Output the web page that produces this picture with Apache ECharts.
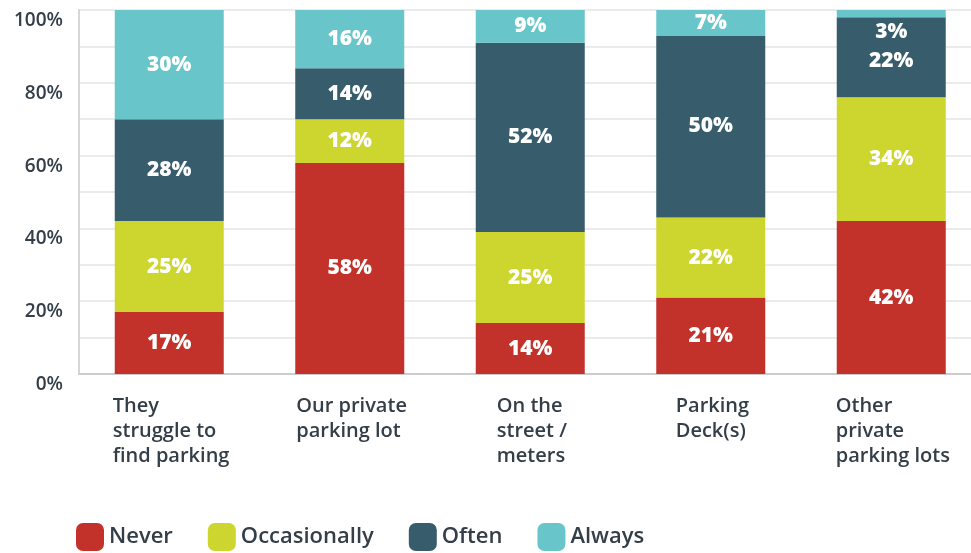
<!DOCTYPE html>
<html>
<head>
<meta charset="utf-8">
<script src="https://cdn.jsdelivr.net/npm/echarts@6/dist/echarts.min.js"></script>
<style>
  html, body { margin: 0; padding: 0; background: #ffffff; }
  #chart { width: 971px; height: 553px; }
</style>
</head>
<body>
<div id="chart"></div>
<script>
// Where people park: share of answers per location
const categories = [
  'They\nstruggle to\nfind parking',
  'Our private\nparking lot',
  'On the\nstreet /\nmeters',
  'Parking\nDeck(s)',
  'Other\nprivate\nparking lots'
];
const seriesNames = ['Never', 'Occasionally', 'Often', 'Always'];
const neverValues = [17, 58, 14, 21, 42];
const occasionallyValues = [25, 12, 25, 22, 34];
const oftenValues = [28, 14, 52, 50, 22];
const alwaysValues = [30, 16, 9, 7, 3];
const yTicks = [0, 20, 40, 60, 80, 100];

const colors = ['#c2322a', '#cdd62f', '#375d6d', '#68c6ca'];
const textColor = '#333e48';
const fontFamily = '"Open Sans", "Noto Sans", sans-serif';
const catFont = { size: 20, weight: 600 };

// Measure each category block so its lines can be left-aligned inside a centred box
const ctx = document.createElement('canvas').getContext('2d');
ctx.font = catFont.weight + ' ' + catFont.size + 'px ' + fontFamily;
const rich = {};
categories.forEach(function (c, i) {
  const w = Math.max.apply(null, c.split('\n').map(function (l) { return ctx.measureText(l).width; }));
  rich['c' + i] = {
    width: Math.ceil(w) + 2,
    align: 'left',
    padding: [0, 0, 0, 6],
    fontSize: catFont.size,
    fontWeight: catFont.weight,
    lineHeight: 25,
    color: textColor,
    fontFamily: fontFamily
  };
});

const barLabel = {
  show: true,
  position: 'inside',
  formatter: function (p) { return p.value + '%'; },
  color: '#ffffff',
  fontSize: 21,
  fontWeight: 800,
  fontFamily: fontFamily,
  textShadowColor: '#2b2b2b',
  textShadowBlur: 0,
  textShadowOffsetX: -1.5,
  textShadowOffsetY: 1
};

// Label nudges for the crowded top of the last column
const labelNudge = { 'Always-4': [0, 18], 'Often-4': [0, 4] };

function makeSeries(name, values, idx) {
  return {
    name: name,
    type: 'bar',
    stack: 'total',
    barWidth: 109,
    itemStyle: { color: colors[idx] },
    label: barLabel,
    emphasis: { disabled: true },
    data: values.map(function (v, j) {
      const nudge = labelNudge[name + '-' + j];
      return nudge ? { value: v, label: { offset: nudge } } : v;
    })
  };
}

const chart = echarts.init(document.getElementById('chart'), null, { renderer: 'canvas' });
chart.setOption({
  animation: false,
  color: colors,
  grid: { left: 79, top: 10, width: 902.5, height: 364, containLabel: false, outerBoundsMode: 'none' },
  legend: {
    left: 71,
    top: 518,
    itemWidth: 28,
    itemHeight: 28,
    itemGap: 35,
    icon: 'roundRect',
    data: seriesNames,
    textStyle: { color: textColor, fontSize: 22, fontWeight: 600, fontFamily: fontFamily }
  },
  xAxis: {
    type: 'category',
    data: categories,
    axisTick: { show: false },
    axisLine: { show: true, lineStyle: { color: '#cccccc', width: 2 } },
    axisLabel: {
      margin: 20,
      interval: 0,
      align: 'center',
      verticalAlign: 'top',
      formatter: function (value, index) {
        return value.split('\n').map(function (l) { return '{c' + index + '|' + l + '}'; }).join('\n');
      },
      rich: rich
    }
  },
  yAxis: {
    type: 'value',
    min: yTicks[0],
    max: yTicks[yTicks.length - 1],
    interval: 20,
    axisLine: { show: true, lineStyle: { color: '#d6d6d6', width: 2 } },
    axisTick: { show: false },
    splitLine: { show: true, lineStyle: { color: '#ebebeb', width: 2 } },
    minorTick: { show: false, splitNumber: 2 },
    minorSplitLine: { show: true, lineStyle: { color: '#ebebeb', width: 2 } },
    axisLabel: {
      margin: 16,
      color: textColor,
      fontSize: 19,
      fontWeight: 600,
      fontFamily: fontFamily,
      verticalAlign: 'top',
      padding: [1, 0, 0, 0],
      formatter: function (v) { return v + '%'; }
    }
  },
  series: [
    makeSeries('Never', neverValues, 0),
    makeSeries('Occasionally', occasionallyValues, 1),
    makeSeries('Often', oftenValues, 2),
    makeSeries('Always', alwaysValues, 3)
  ]
});
</script>
</body>
</html>
